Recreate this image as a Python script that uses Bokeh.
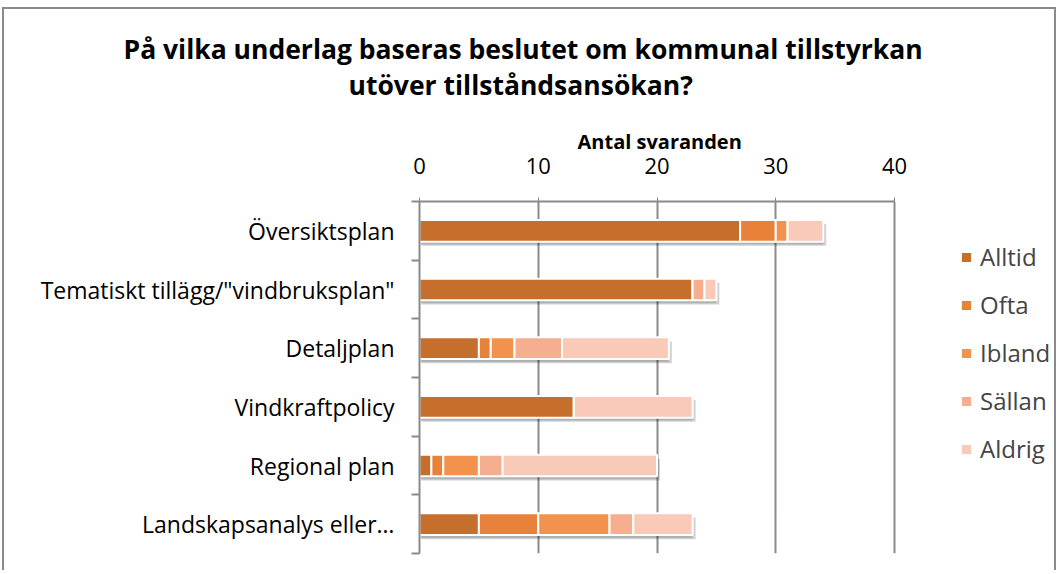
from bokeh.plotting import figure
from bokeh.models import (ColumnDataSource, FixedTicker, Title, Legend, LegendItem, Range1d)
from bokeh.transform import dodge
from bokeh.embed import file_html
from bokeh.resources import INLINE

categories = ["Översiktsplan", 'Tematiskt tillägg/"vindbruksplan"', "Detaljplan",
              "Vindkraftpolicy", "Regional plan", "Landskapsanalys eller…"]
series = ["Alltid", "Ofta", "Ibland", "Sällan", "Aldrig"]
alltid = [27, 23, 5, 13, 1, 5]
ofta = [3, 0, 1, 0, 1, 5]
ibland = [1, 0, 2, 0, 3, 6]
sallan = [0, 1, 4, 0, 2, 2]
aldrig = [3, 1, 9, 10, 13, 5]
x_ticks = [0, 10, 20, 30, 40]
colors = ["#C66E2C", "#E8823A", "#F2924C", "#F5AF90", "#F9CAB8"]

FONT = "Open Sans"
n = len(categories)
ypos = [n - i - 0.5 for i in range(n)]
totals = [a + b + c + d + e for a, b, c, d, e in zip(alltid, ofta, ibland, sallan, aldrig)]

# layout: axis 0..40 spans 475 px; frame extends right to hold the legend
AXIS_MAX = x_ticks[-1]
PX_PER_UNIT = 475 / AXIS_MAX
FRAME_W = 1054 - 419
x_end = FRAME_W / PX_PER_UNIT

src = ColumnDataSource(dict(y=ypos, Alltid=alltid, Ofta=ofta, Ibland=ibland,
                            Sällan=sallan, Aldrig=aldrig, total=totals,
                            shadow_right=[t + 0.25 for t in totals]))

p = figure(width=1054, height=563, output_backend="svg", toolbar_location=None,
           x_range=Range1d(0, x_end), y_range=Range1d(0, n), x_axis_location="above",
           min_border_left=415, min_border_right=4, min_border_top=192,
           min_border_bottom=19)
p.styles = {"border-top": "2px solid #8a8a8a", "border-left": "2px solid #8a8a8a",
            "border-right": "2px solid #8a8a8a", "margin-left": "2px", "margin-top": "7px"}
p.outline_line_color = None

# axis title, centred over the 0..40 axis
t_axis = Title(text="Antal svaranden", text_font=FONT, text_font_size="20px",
               text_font_style="bold", text_color="#000000", align="left", offset=158,
               standoff=0)
p.add_layout(t_axis, "above")
# titles (stacked outward: spacer, line 2, line 1)
spacer = Title(text=" ", text_font_size="1px", standoff=20)
p.add_layout(spacer, "above")
t2 = Title(text="utöver tillståndsansökan?", text_font=FONT, text_font_size="26.5px",
           text_font_style="bold", text_color="#000000", align="left", offset=-71,
           standoff=0)
p.add_layout(t2, "above")
p.title.text = "På vilka underlag baseras beslutet om kommunal tillstyrkan"
p.title.text_font = FONT
p.title.text_font_size = "26.5px"
p.title.text_font_style = "bold"
p.title.text_color = "#000000"
p.title.align = "left"
p.title.offset = -296
p.title.standoff = -4

# x axis (top)
xa = p.xaxis[0]
xa.ticker = FixedTicker(ticks=x_ticks)
xa.bounds = (0, AXIS_MAX)
xa.major_label_text_font = FONT
xa.major_label_text_font_size = "22px"
xa.major_label_text_color = "#000000"
xa.major_label_standoff = 24
xa.major_tick_out = 4
xa.major_tick_in = 4
xa.major_tick_line_color = "#8a8a8a"
xa.axis_line_color = "#8a8a8a"
xa.axis_line_width = 2
xa.minor_tick_line_color = None

# y axis (left)
ya = p.yaxis[0]
ya.ticker = FixedTicker(ticks=ypos, minor_ticks=list(range(n + 1)))
ya.major_label_overrides = {y: c for y, c in zip(ypos, categories)}
ya.major_label_text_font = FONT
ya.major_label_text_font_size = "23px"
ya.major_label_text_color = "#000000"
ya.major_label_standoff = 17
ya.major_tick_out = 0
ya.major_tick_in = 0
ya.minor_tick_out = 8
ya.minor_tick_in = 0
ya.minor_tick_line_color = "#8a8a8a"
ya.minor_tick_line_width = 2
ya.axis_line_color = "#8a8a8a"
ya.axis_line_width = 2

p.xgrid.ticker = FixedTicker(ticks=x_ticks)
p.xgrid.grid_line_color = "#8a8a8a"
p.xgrid.grid_line_width = 2
p.ygrid.grid_line_color = None

# bar shadows
p.hbar(y=dodge("y", -0.07, range=p.y_range), left=0.15, right="shadow_right", height=0.37,
       source=src, fill_color="#000000", fill_alpha=0.18, line_color=None)
p.hbar(y=dodge("y", -0.05, range=p.y_range), left=0.1, right="total", height=0.37,
       source=src, fill_color="#000000", fill_alpha=0.15, line_color=None)

rends = p.hbar_stack(series, y="y", height=0.37, color=colors, source=src,
                     line_color="white", line_width=2)

legend = Legend(items=[LegendItem(label=s, renderers=[r]) for s, r in zip(series, rends)],
                location=(540, 88), orientation="vertical",
                background_fill_alpha=0, border_line_color=None,
                padding=0, margin=0, spacing=15,
                glyph_width=14, glyph_height=14, label_height=24, label_standoff=7,
                label_text_font=FONT, label_text_font_size="24px")
p.add_layout(legend, "center")

open("out.html", "w").write(file_html(p, INLINE))
